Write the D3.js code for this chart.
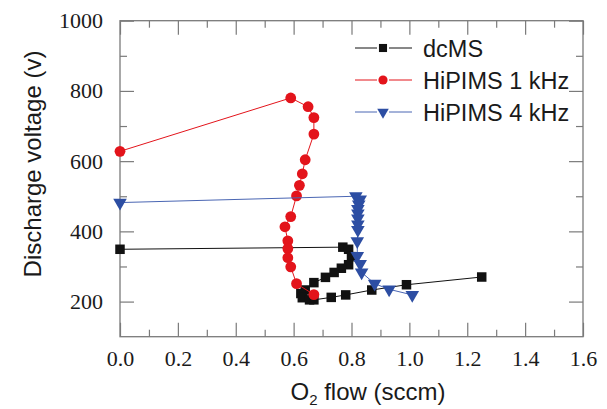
<!DOCTYPE html>
<html><head><meta charset="utf-8">
<script src="https://cdn.jsdelivr.net/npm/d3@7/dist/d3.min.js"></script>
<style>
html,body{margin:0;padding:0;background:#fff;}
svg{display:block;}
.serif{font-family:"Liberation Serif","Times New Roman","DejaVu Serif",serif;}
.sans{font-family:"Liberation Sans",Arial,"DejaVu Sans",sans-serif;}
</style></head>
<body>
<svg id="chart" width="607" height="409"></svg>
<script>
// ---- data ----
const xTicks = [0.0, 0.2, 0.4, 0.6, 0.8, 1.0, 1.2, 1.4, 1.6];
const yTicks = [200, 400, 600, 800, 1000];
const seriesNames = ["dcMS", "HiPIMS 1 kHz", "HiPIMS 4 kHz"];

const dcX = [0.0, 0.77, 0.79, 0.80, 0.79, 0.765, 0.74, 0.71, 0.67, 0.64, 0.625, 0.63, 0.655, 0.67, 0.73, 0.78, 0.87, 0.99, 1.25];
const dcY = [349, 355, 349, 328, 305, 295, 283, 269, 254, 233, 223, 211, 205, 205, 212, 219, 233, 248, 270];

const hi1X = [0.0, 0.59, 0.65, 0.67, 0.67, 0.64, 0.63, 0.62, 0.61, 0.59, 0.57, 0.58, 0.58, 0.58, 0.59, 0.61, 0.67];
const hi1Y = [628, 780, 755, 724, 677, 604, 564, 531, 501, 442, 413, 373, 351, 325, 299, 251, 220];

const hi4X = [0.0, 0.815, 0.83, 0.825, 0.822, 0.822, 0.822, 0.822, 0.822, 0.82, 0.82, 0.83, 0.835, 0.88, 0.93, 1.01];
const hi4Y = [482, 500, 491, 477, 464, 451, 437, 420, 404, 372, 330, 307, 283, 251, 235, 219];

// ---- layout ----
const svg = d3.select("#chart");
const L = 120, R = 583, T = 20.7, B = 336.7;
const x = d3.scaleLinear().domain([0, 1.6]).range([L, R]);
const y = d3.scaleLinear().domain([100, 1000]).range([B, T]);
const frameColor = "#7a7a7a";

const colors = ["#111111", "#e3141b", "#2d4ea3"];
const lineColors = ["#111111", "#e3141b", "#4a66b3"];

const majorX = xTicks;
const minorX = d3.range(0.1, 1.6, 0.2);
const majorY = yTicks;
const minorY = [300, 500, 700, 900];

function styleAxis(g) {
  g.select(".domain").remove();
  g.attr("font-family", null);
  g.selectAll(".tick line").attr("stroke", frameColor).attr("stroke-width", 1.2);
}
function styleLabels(g) {
  g.selectAll("text").attr("class", "serif").style("font-size", "22px").attr("fill", "#1a1a1a");
}

svg.append("g").attr("transform", `translate(0,${B})`)
  .call(d3.axisBottom(x).tickValues(majorX).tickSize(-14).tickPadding(14).tickFormat(d3.format(".1f")))
  .call(styleAxis).call(styleLabels);
svg.append("g").attr("transform", `translate(0,${B})`)
  .call(d3.axisBottom(x).tickValues(minorX).tickSize(-7).tickFormat(""))
  .call(styleAxis);
svg.append("g").attr("transform", `translate(0,${T})`)
  .call(d3.axisTop(x).tickValues(majorX).tickSize(-14).tickFormat(""))
  .call(styleAxis);
svg.append("g").attr("transform", `translate(0,${T})`)
  .call(d3.axisTop(x).tickValues(minorX).tickSize(-7).tickFormat(""))
  .call(styleAxis);

svg.append("g").attr("transform", `translate(${L},0)`)
  .call(d3.axisLeft(y).tickValues(majorY).tickSize(-14).tickPadding(17).tickFormat(d3.format("d")))
  .call(styleAxis).call(styleLabels);
svg.append("g").attr("transform", `translate(${L},0)`)
  .call(d3.axisLeft(y).tickValues(minorY).tickSize(-7).tickFormat(""))
  .call(styleAxis);
svg.append("g").attr("transform", `translate(${R},0)`)
  .call(d3.axisRight(y).tickValues(majorY).tickSize(-14).tickFormat(""))
  .call(styleAxis);
svg.append("g").attr("transform", `translate(${R},0)`)
  .call(d3.axisRight(y).tickValues(minorY).tickSize(-7).tickFormat(""))
  .call(styleAxis);

// frame
svg.append("rect").attr("x", L).attr("y", T).attr("width", R - L).attr("height", B - T)
  .attr("fill", "none").attr("stroke", frameColor).attr("stroke-width", 1.3);

// series
const series = [
  { name: seriesNames[0], xs: dcX, ys: dcY, sym: "square" },
  { name: seriesNames[1], xs: hi1X, ys: hi1Y, sym: "circle" },
  { name: seriesNames[2], xs: hi4X, ys: hi4Y, sym: "tri" }
];

const line = d3.line().x(d => x(d[0])).y(d => y(d[1]));

function drawMarker(g, sym, cx, cy, color, scale) {
  if (sym === "square") {
    const s = 9.5 * scale;
    g.append("rect").attr("x", cx - s / 2).attr("y", cy - s / 2).attr("width", s).attr("height", s).attr("fill", color);
  } else if (sym === "circle") {
    g.append("circle").attr("cx", cx).attr("cy", cy).attr("r", 5.4 * scale).attr("fill", color);
  } else {
    g.append("path").attr("d", d3.symbol().type(d3.symbolTriangle).size(80 * scale * scale)())
      .attr("transform", `translate(${cx},${cy}) rotate(180)`).attr("fill", color);
  }
}

series.forEach((s, i) => {
  const pts = s.xs.map((v, k) => [v, s.ys[k]]);
  svg.append("path").datum(pts).attr("d", line).attr("fill", "none")
    .attr("stroke", lineColors[i]).attr("stroke-width", 1);
  const g = svg.append("g");
  pts.forEach(p => drawMarker(g, s.sym, x(p[0]), y(p[1]), colors[i], 1));
});

// legend
const legY = [48, 80, 112];
series.forEach((s, i) => {
  const g = svg.append("g");
  g.append("line").attr("x1", 355).attr("x2", 377).attr("y1", legY[i]).attr("y2", legY[i]).attr("stroke", lineColors[i]).attr("stroke-width", 1);
  g.append("line").attr("x1", 389).attr("x2", 412).attr("y1", legY[i]).attr("y2", legY[i]).attr("stroke", lineColors[i]).attr("stroke-width", 1);
  drawMarker(g, s.sym, 383, legY[i], colors[i], 0.85);
  g.append("text").attr("class", "sans").attr("x", 423).attr("y", legY[i] + 8.5)
    .style("font-size", "23.5px").attr("fill", "#1a1a1a")
    .text(s.name);
});

// axis titles
const xt = svg.append("text").attr("class", "sans").attr("x", 368).attr("y", 400).attr("text-anchor", "middle")
  .style("font-size", "24px").attr("fill", "#1a1a1a");
xt.append("tspan").text("O");
xt.append("tspan").style("font-size", "15px").attr("dy", 5).text("2");
xt.append("tspan").attr("dy", -5).text(" flow (sccm)");

svg.append("text").attr("class", "sans").attr("transform", "translate(41,164) rotate(-90)").attr("text-anchor", "middle")
  .style("font-size", "24px").attr("fill", "#1a1a1a")
  .text("Discharge voltage (v)");
</script>
</body></html>
